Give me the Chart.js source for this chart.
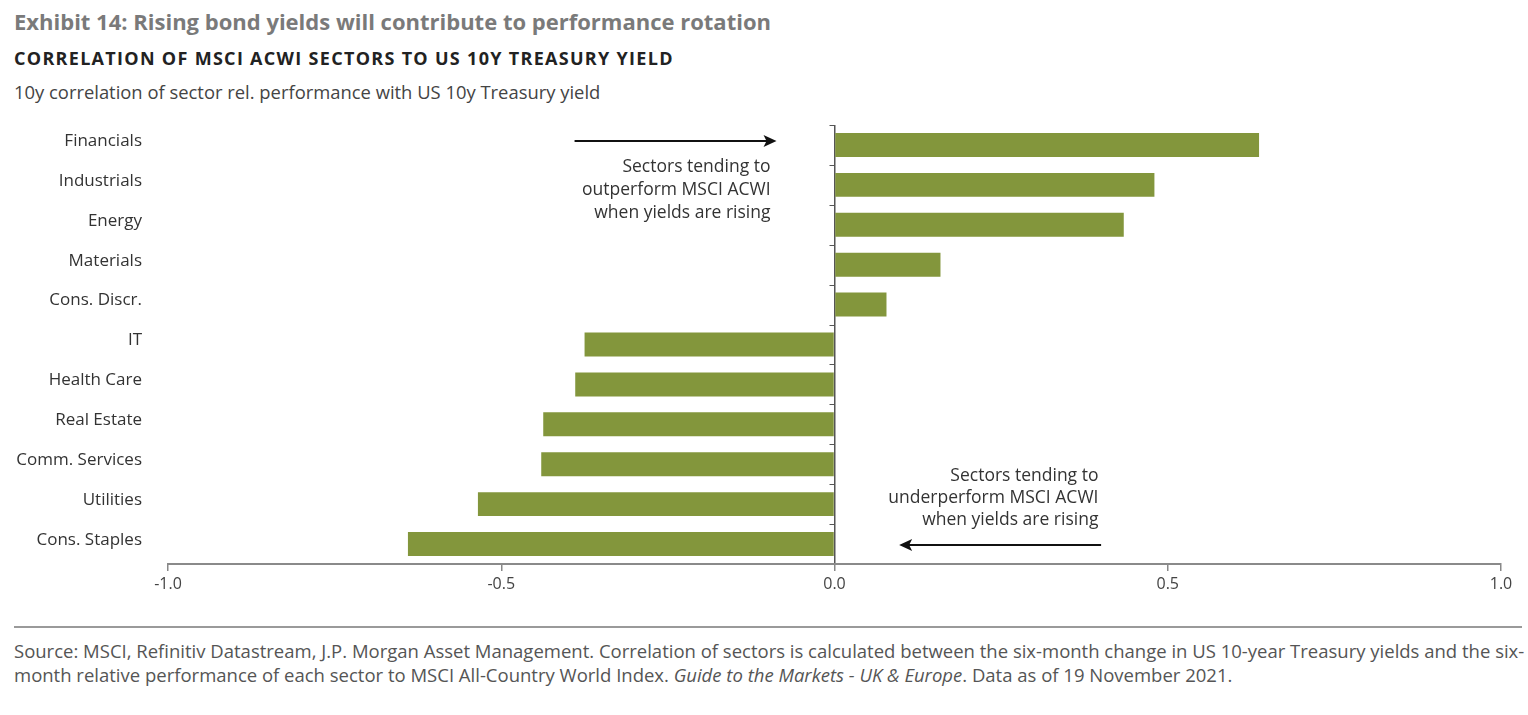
<!DOCTYPE html>
<html>
<head>
<meta charset="utf-8">
<script src="https://cdn.jsdelivr.net/npm/chart.js@4.4.0/dist/chart.umd.min.js"></script>
<style>
  html, body { margin: 0; padding: 0; background: #fff; }
  body { width: 1528px; height: 715px; position: relative; overflow: hidden; font-family: "Open Sans", "Noto Sans", sans-serif; }
  .title { position: absolute; left: 14px; top: 6px; font-size: 22px; font-weight: 700; color: #7a7a7a; white-space: nowrap; }
  .subtitle { position: absolute; left: 14px; top: 46px; font-size: 18px; font-weight: 700; color: #222; letter-spacing: 1.3px; white-space: nowrap; }
  .unit { position: absolute; left: 14px; top: 79px; font-size: 18.4px; color: #444; white-space: nowrap; }
  #wrap { position: absolute; left: 0; top: 110px; width: 1528px; height: 500px; }
  .rule { position: absolute; left: 14px; top: 626px; width: 1508px; height: 2px; background: #9a9a9a; }
  .source { position: absolute; left: 14px; top: 639px; font-size: 18.5px; line-height: 24px; color: #555; white-space: nowrap; }
</style>
</head>
<body>
<div class="title">Exhibit 14: Rising bond yields will contribute to performance rotation</div>
<div class="subtitle">CORRELATION OF MSCI ACWI SECTORS TO US 10Y TREASURY YIELD</div>
<div class="unit">10y correlation of sector rel. performance with US 10y Treasury yield</div>
<div id="wrap"><canvas id="chart"></canvas></div>
<div class="rule"></div>
<div class="source">Source: MSCI, Refinitiv Datastream, J.P. Morgan Asset Management. Correlation of sectors is calculated between the six-month change in US 10-year Treasury yields and the six-<br>month relative performance of each sector to MSCI All-Country World Index. <i>Guide to the Markets - UK &amp; Europe</i>. Data as of 19 November 2021.</div>
<script>
// sectors, top to bottom
const sectors = ['Financials', 'Industrials', 'Energy', 'Materials', 'Cons. Discr.', 'IT',
    'Health Care', 'Real Estate', 'Comm. Services', 'Utilities', 'Cons. Staples'];
const correlation = [0.637, 0.480, 0.434, 0.159, 0.078, -0.375, -0.389, -0.437, -0.440, -0.535, -0.640];
const xTicks = [-1.0, -0.5, 0.0, 0.5, 1.0];

const upText = ['Sectors tending to', 'outperform MSCI ACWI', 'when yields are rising'];
const downText = ['Sectors tending to', 'underperform MSCI ACWI', 'when yields are rising'];

const barColor = '#83963c';
const textColor = '#333';
const fontFamily = '"Open Sans", "Noto Sans", sans-serif';

// arrow with filled head at (x2, y)
function drawArrow(ctx, x1, x2, y) {
    const dir = x2 > x1 ? 1 : -1;
    ctx.strokeStyle = '#111';
    ctx.fillStyle = '#111';
    ctx.lineWidth = 2;
    ctx.beginPath();
    ctx.moveTo(x1, y);
    ctx.lineTo(x2 - dir * 8, y);
    ctx.stroke();
    ctx.beginPath();
    ctx.moveTo(x2, y);
    ctx.lineTo(x2 - dir * 13, y - 6);
    ctx.lineTo(x2 - dir * 10, y);
    ctx.lineTo(x2 - dir * 13, y + 6);
    ctx.closePath();
    ctx.fill();
}

const annotations = {
    id: 'annotations',
    afterDatasetsDraw(chart) {
        const { ctx, scales: { x, y } } = chart;
        const zx = x.getPixelForValue(0);
        const step = y.getPixelForValue(1) - y.getPixelForValue(0);
        ctx.save();

        // small ticks on the zero line between categories
        ctx.strokeStyle = '#555';
        ctx.lineWidth = 1;
        for (let i = 0; i < sectors.length; i++) {
            const ty = Math.round(y.getPixelForValue(i) - step / 2) + 0.5;
            ctx.beginPath();
            ctx.moveTo(zx - 5, ty);
            ctx.lineTo(zx, ty);
            ctx.stroke();
        }

        ctx.font = '17.5px ' + fontFamily;
        ctx.fillStyle = textColor;
        ctx.textAlign = 'right';
        ctx.textBaseline = 'middle';

        // upper annotation
        const topY = y.getPixelForValue(0);
        drawArrow(ctx, x.getPixelForValue(-0.39), x.getPixelForValue(-0.087), topY - 4);
        upText.forEach((t, i) => {
            ctx.fillStyle = textColor;
            ctx.fillText(t, x.getPixelForValue(-0.096), topY + 22 + i * 23);
        });

        // lower annotation
        const botY = y.getPixelForValue(sectors.length - 1);
        drawArrow(ctx, x.getPixelForValue(0.40), x.getPixelForValue(0.097), botY + 1);
        downText.forEach((t, i) => {
            ctx.fillStyle = textColor;
            ctx.fillText(t, x.getPixelForValue(0.396), botY - 68 + i * 22);
        });
        ctx.restore();
    }
};

new Chart(document.getElementById('chart'), {
    type: 'bar',
    data: {
        labels: sectors,
        datasets: [{
            data: correlation,
            backgroundColor: barColor,
            borderWidth: 0,
            categoryPercentage: 1.0,
            barPercentage: 0.6
        }]
    },
    options: {
        indexAxis: 'y',
        responsive: true,
        maintainAspectRatio: false,
        animation: false,
        layout: { padding: { top: 15, right: 27, bottom: 0, left: 0 } },
        plugins: { legend: { display: false }, tooltip: { enabled: false } },
        scales: {
            x: {
                min: -1,
                max: 1,
                afterBuildTicks: scale => { scale.ticks = xTicks.map(v => ({ value: v })); },
                ticks: {
                    color: '#444',
                    padding: 4,
                    font: { family: fontFamily, size: 16 },
                    callback: v => v.toFixed(1)
                },
                grid: {
                    color: c => (c.tick && c.tick.value === 0 ? '#555' : 'rgba(0,0,0,0)'),
                    lineWidth: 1.5,
                    tickColor: '#888',
                    tickLength: 7,
                    drawTicks: true
                },
                border: { display: true, color: '#8a8a8a', width: 2 },
                afterFit: scale => { scale.height = 46; scale.paddingLeft = 0; scale.paddingRight = 0; }
            },
            y: {
                grid: { display: false, drawTicks: false },
                border: { display: false },
                ticks: {
                    color: textColor,
                    padding: 26,
                    labelOffset: -4,
                    font: { family: fontFamily, size: 17 }
                },
                afterFit: scale => { scale.width = 168; scale.paddingTop = 0; scale.paddingBottom = 0; }
            }
        }
    },
    plugins: [annotations]
});
</script>
</body>
</html>
